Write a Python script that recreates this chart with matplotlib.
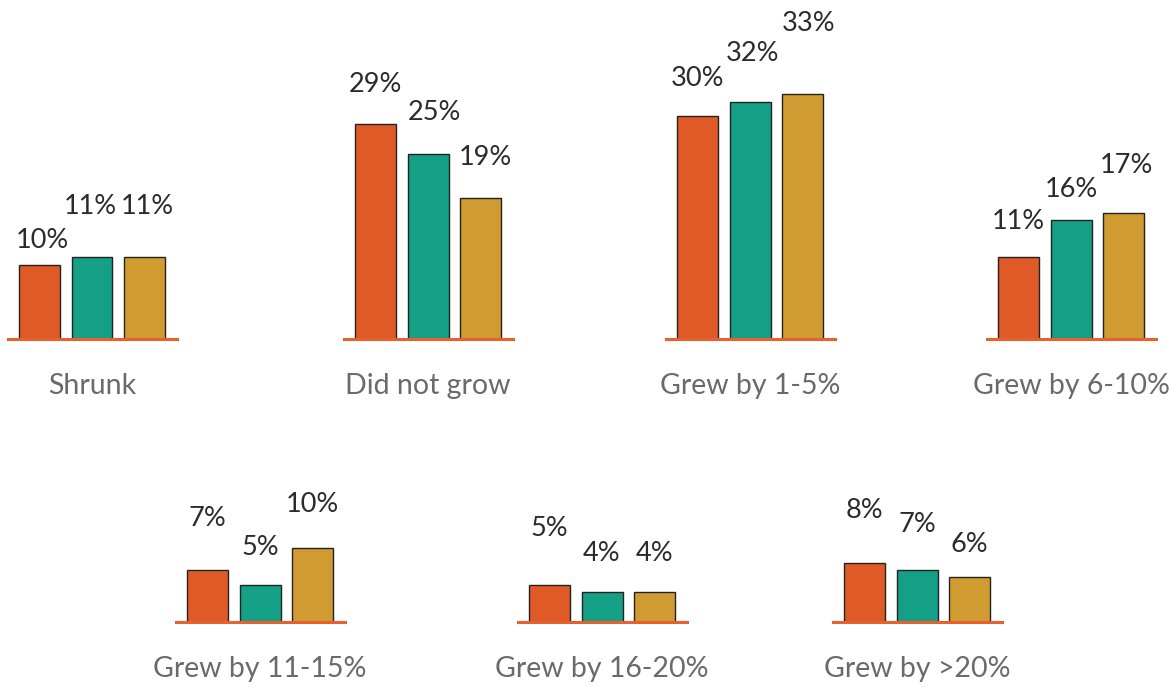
import matplotlib
matplotlib.use("Agg")
import matplotlib.pyplot as plt

# Share of respondents per growth bucket, three series per bucket
categories = ["Shrunk", "Did not grow", "Grew by 1-5%", "Grew by 6-10%",
              "Grew by 11-15%", "Grew by 16-20%", "Grew by >20%"]
series_a = [10, 29, 30, 11, 7, 5, 8]
series_b = [11, 25, 32, 16, 5, 4, 7]
series_c = [11, 19, 33, 17, 10, 4, 6]

colors = ["#E05A28", "#13A087", "#D09C32"]
line_color = "#E8602C"
value_color = "#2B2B2B"
cat_color = "#6A6A6A"

W, H, DPI = 1174, 690, 100
fig = plt.figure(figsize=(W / DPI, H / DPI), dpi=DPI)
fig.patch.set_facecolor("white")

plt.rcParams["font.family"] = ["Lato", "DejaVu Sans"]

# layout (pixels): group centre x, baseline y
centers = [92, 428, 750, 1071, 260, 602, 917]
baselines = [339, 339, 339, 339, 622, 622, 622]
px_per_pct = 7.42
half_w = 84.5        # half length of each baseline, px
step = 52.5          # distance between bar centres, px
ymax = 40

# label gaps above bar tops (px) and small horizontal nudges (px)
gaps = [[17, 43, 43], [32, 33, 33], [30, 41, 63], [28, 23, 40],
        [44, 30, 36], [49, 31, 31], [45, 38, 25]]
nudges = [[3, -2, 3], [0, 6, 5], [0, 3, 6], [0, 0, 3],
          [0, 0, 0], [0, 0, 0], [0, 0, 0]]

for i, cat in enumerate(categories):
    vals = [series_a[i], series_b[i], series_c[i]]
    ax_w = 2 * half_w
    ax_h = ymax * px_per_pct
    left = (centers[i] - half_w) / W
    bottom = (H - baselines[i]) / H
    ax = fig.add_axes([left, bottom, ax_w / W, ax_h / H])
    hw = half_w / step
    ax.set_xlim(1 - hw, 1 + hw)
    ax.set_ylim(0, ymax)
    ax.axis("off")
    bars = ax.bar(range(3), vals, width=41 / step, color=colors,
                  edgecolor="#222222", linewidth=1.0, zorder=2)
    ax.axhline(0, color=line_color, linewidth=2.2, zorder=3, clip_on=False)
    for j, (b, v) in enumerate(zip(bars, vals)):
        ax.annotate(f"{v}%", xy=(b.get_x() + b.get_width() / 2, v),
                    xytext=(nudges[i][j] * 0.72, gaps[i][j] * 0.72),
                    textcoords="offset points", ha="center", va="baseline",
                    fontsize=19.5, color=value_color, annotation_clip=False)
    ax.annotate(cat, xy=(1, 0), xytext=(0, -47 * 0.72),
                textcoords="offset points", ha="center", va="center",
                fontsize=20.5, color=cat_color, annotation_clip=False)

fig.savefig("out.png", dpi=DPI, facecolor="white")
